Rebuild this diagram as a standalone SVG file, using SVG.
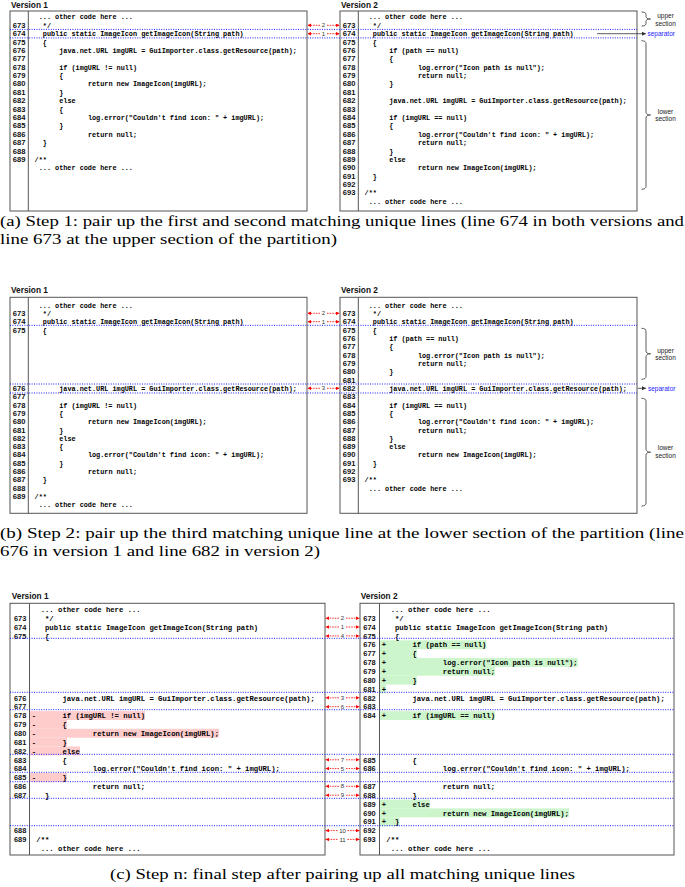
<svg xmlns="http://www.w3.org/2000/svg" width="685" height="887" viewBox="0 0 685 887">
<style>
.box{fill:#fff;stroke:#555;stroke-width:1}
.gut{stroke:#555;stroke-width:1}
.dot{stroke:#1a1aff;stroke-width:1;stroke-dasharray:1 1.4;fill:none}
.code{font-family:"Liberation Mono","Courier New",monospace;font-weight:bold;fill:#000}
.ca{font-size:6.83px}
.cc{font-size:7.25px}
.ln{font-family:"Liberation Sans",Arial,sans-serif;font-weight:bold;fill:#111}
.lna{font-size:7.6px}
.lnc{font-size:7.4px}
.ver{font-family:"Liberation Sans",Arial,sans-serif;font-weight:bold;font-size:8.3px;fill:#111}
.cap{font-family:"Liberation Serif","Times New Roman",serif;font-size:15px;fill:#000}
.ra{stroke:#f00;stroke-width:0.8;stroke-dasharray:1.6 1;fill:none}
.rl{font-family:"Liberation Sans",Arial,sans-serif;font-size:6px;fill:#333;text-anchor:middle}
.sec{font-family:"Liberation Sans",Arial,sans-serif;font-size:6.5px;fill:#222;text-anchor:middle}
.sep{font-family:"Liberation Sans",Arial,sans-serif;font-size:6.5px;fill:#1a1aff}
.brace{fill:none;stroke:#333;stroke-width:0.8}
.sl{stroke:#333;stroke-width:0.8;fill:none}
.pk{fill:#ffcccc}
.gr{fill:#ccf5cc}
</style>
<defs>
<marker id="rh" viewBox="0 0 10 10" refX="10" refY="5" markerUnits="userSpaceOnUse" markerWidth="4" markerHeight="3.6" orient="auto"><path d="M0,0 L10,5 L0,10 z" fill="#f00"/></marker>
<marker id="bh" viewBox="0 0 10 10" refX="10" refY="5" markerUnits="userSpaceOnUse" markerWidth="4.5" markerHeight="4" orient="auto"><path d="M0,0 L10,5 L0,10 z" fill="#333"/></marker>
</defs>

<!-- ================= Panel (a) ================= -->
<g id="a-v1">
<text class="ver" x="11" y="7.5">Version 1</text>
<rect class="box" x="10" y="11" width="297" height="200"/>
<line class="gut" x1="28.3" y1="11" x2="28.3" y2="211"/>
<g class="ln lna">
<text x="12.7" y="27.8">673</text><text x="12.7" y="36.2">674</text><text x="12.7" y="44.5">675</text><text x="12.7" y="52.9">676</text><text x="12.7" y="61.3">677</text><text x="12.7" y="69.7">678</text><text x="12.7" y="78.1">679</text><text x="12.7" y="86.4">680</text><text x="12.7" y="94.8">681</text><text x="12.7" y="103.2">682</text><text x="12.7" y="111.6">683</text><text x="12.7" y="120">684</text><text x="12.7" y="128.3">685</text><text x="12.7" y="136.7">686</text><text x="12.7" y="145.1">687</text><text x="12.7" y="153.5">688</text><text x="12.7" y="161.9">689</text>
</g>
<g class="code ca">
<text x="38.7" y="19.4">... other code here ...</text>
<text x="42.8" y="27.8">*/</text>
<text x="42.8" y="36.2">public static ImageIcon getImageIcon(String path)</text>
<text x="42.8" y="44.5">{</text>
<text x="59.2" y="52.9">java.net.URL imgURL = GuiImporter.class.getResource(path);</text>
<text x="59.2" y="69.7">if (imgURL != null)</text>
<text x="59.2" y="78.1">{</text>
<text x="87.9" y="86.4">return new ImageIcon(imgURL);</text>
<text x="59.2" y="94.8">}</text>
<text x="59.2" y="103.2">else</text>
<text x="59.2" y="111.6">{</text>
<text x="87.9" y="120">log.error("Couldn't find icon: " + imgURL);</text>
<text x="59.2" y="128.3">}</text>
<text x="87.9" y="136.7">return null;</text>
<text x="42.8" y="145.1">}</text>
<text x="34.6" y="161.9">/**</text>
<text x="38.7" y="170.2">... other code here ...</text>
</g>
</g>

<g id="a-v2">
<text class="ver" x="341" y="7.5">Version 2</text>
<rect class="box" x="340" y="11" width="297" height="200"/>
<line class="gut" x1="358.3" y1="11" x2="358.3" y2="211"/>
<g class="ln lna">
<text x="342.7" y="27.8">673</text><text x="342.7" y="36.2">674</text><text x="342.7" y="44.5">675</text><text x="342.7" y="52.9">676</text><text x="342.7" y="61.3">677</text><text x="342.7" y="69.7">678</text><text x="342.7" y="78.1">679</text><text x="342.7" y="86.4">680</text><text x="342.7" y="94.8">681</text><text x="342.7" y="103.2">682</text><text x="342.7" y="111.6">683</text><text x="342.7" y="120">684</text><text x="342.7" y="128.3">685</text><text x="342.7" y="136.7">686</text><text x="342.7" y="145.1">687</text><text x="342.7" y="153.5">688</text><text x="342.7" y="161.9">689</text><text x="342.7" y="170.2">690</text><text x="342.7" y="178.6">691</text><text x="342.7" y="187">692</text><text x="342.7" y="195.4">693</text>
</g>
<g class="code ca">
<text x="368.7" y="19.4">... other code here ...</text>
<text x="372.8" y="27.8">*/</text>
<text x="372.8" y="36.2">public static ImageIcon getImageIcon(String path)</text>
<text x="372.8" y="44.5">{</text>
<text x="389.2" y="52.9">if (path == null)</text>
<text x="389.2" y="61.3">{</text>
<text x="417.9" y="69.7">log.error("Icon path is null");</text>
<text x="417.9" y="78.1">return null;</text>
<text x="389.2" y="86.4">}</text>
<text x="389.2" y="103.2">java.net.URL imgURL = GuiImporter.class.getResource(path);</text>
<text x="389.2" y="120">if (imgURL == null)</text>
<text x="389.2" y="128.3">{</text>
<text x="417.9" y="136.7">log.error("Couldn't find icon: " + imgURL);</text>
<text x="417.9" y="145.1">return null;</text>
<text x="389.2" y="153.5">}</text>
<text x="389.2" y="161.9">else</text>
<text x="417.9" y="170.2">return new ImageIcon(imgURL);</text>
<text x="372.8" y="178.6">}</text>
<text x="364.6" y="195.4">/**</text>
<text x="368.7" y="203.8">... other code here ...</text>
</g>
</g>

<g id="a-sections">
<path class="brace" d="M641.5,12 Q646,12 646,14.5 L646,16.5 Q646,19 650.5,19 Q646,19 646,21.5 L646,23.5 Q646,26 641.5,26"/>
<text class="sec" x="665.5" y="18">upper</text>
<text class="sec" x="665.5" y="25.7">section</text>
<path class="brace" d="M641.5,40.7 Q646,40.7 646,43.7 L646,112 Q646,115 650.5,115 Q646,115 646,118 L646,186.3 Q646,189.3 641.5,189.3"/>
<text class="sec" x="665.5" y="114">lower</text>
<text class="sec" x="665.5" y="121.3">section</text>
<text class="sep" x="647.5" y="36">separator</text>
</g>

<text class="cap" x="0" y="226" textLength="684" lengthAdjust="spacingAndGlyphs">(a) Step 1: pair up the first and second matching unique lines (line 674 in both versions and</text>
<text class="cap" x="0" y="244" textLength="337" lengthAdjust="spacingAndGlyphs">line 673 at the upper section of the partition)</text>

<!-- ================= Panel (b) ================= -->
<g id="b-v1">
<text class="ver" x="11" y="293">Version 1</text>
<rect class="box" x="10" y="297.3" width="297" height="216"/>
<line class="gut" x1="28.3" y1="297.3" x2="28.3" y2="513.3"/>
<g class="ln lna">
<text x="12.7" y="315.8">673</text><text x="12.7" y="324.2">674</text><text x="12.7" y="332.5">675</text><text x="12.7" y="390.8">676</text><text x="12.7" y="399.1">677</text><text x="12.7" y="407.5">678</text><text x="12.7" y="415.8">679</text><text x="12.7" y="424.1">680</text><text x="12.7" y="432.5">681</text><text x="12.7" y="440.8">682</text><text x="12.7" y="449.1">683</text><text x="12.7" y="457.4">684</text><text x="12.7" y="465.8">685</text><text x="12.7" y="474.1">686</text><text x="12.7" y="482.4">687</text><text x="12.7" y="490.8">688</text><text x="12.7" y="499.1">689</text>
</g>
<g class="code ca">
<text x="38.7" y="307.5">... other code here ...</text>
<text x="42.8" y="315.8">*/</text>
<text x="42.8" y="324.2">public static ImageIcon getImageIcon(String path)</text>
<text x="42.8" y="332.5">{</text>
<text x="59.2" y="390.8">java.net.URL imgURL = GuiImporter.class.getResource(path);</text>
<text x="59.2" y="407.5">if (imgURL != null)</text>
<text x="59.2" y="415.8">{</text>
<text x="87.9" y="424.1">return new ImageIcon(imgURL);</text>
<text x="59.2" y="432.5">}</text>
<text x="59.2" y="440.8">else</text>
<text x="59.2" y="449.1">{</text>
<text x="87.9" y="457.4">log.error("Couldn't find icon: " + imgURL);</text>
<text x="59.2" y="465.8">}</text>
<text x="87.9" y="474.1">return null;</text>
<text x="42.8" y="482.4">}</text>
<text x="34.6" y="499.1">/**</text>
<text x="38.7" y="507.4">... other code here ...</text>
</g>
</g>

<g id="b-v2">
<text class="ver" x="341" y="293">Version 2</text>
<rect class="box" x="340" y="297.3" width="297" height="216"/>
<line class="gut" x1="358.3" y1="297.3" x2="358.3" y2="513.3"/>
<g class="ln lna">
<text x="342.7" y="315.8">673</text><text x="342.7" y="324.2">674</text><text x="342.7" y="332.5">675</text><text x="342.7" y="340.8">676</text><text x="342.7" y="349.2">677</text><text x="342.7" y="357.5">678</text><text x="342.7" y="365.8">679</text><text x="342.7" y="374.1">680</text><text x="342.7" y="382.5">681</text><text x="342.7" y="390.8">682</text><text x="342.7" y="399.1">683</text><text x="342.7" y="407.5">684</text><text x="342.7" y="415.8">685</text><text x="342.7" y="424.1">686</text><text x="342.7" y="432.5">687</text><text x="342.7" y="440.8">688</text><text x="342.7" y="449.1">689</text><text x="342.7" y="457.4">690</text><text x="342.7" y="465.8">691</text><text x="342.7" y="474.1">692</text><text x="342.7" y="482.4">693</text>
</g>
<g class="code ca">
<text x="368.7" y="307.5">... other code here ...</text>
<text x="372.8" y="315.8">*/</text>
<text x="372.8" y="324.2">public static ImageIcon getImageIcon(String path)</text>
<text x="372.8" y="332.5">{</text>
<text x="389.2" y="340.8">if (path == null)</text>
<text x="389.2" y="349.2">{</text>
<text x="417.9" y="357.5">log.error("Icon path is null");</text>
<text x="417.9" y="365.8">return null;</text>
<text x="389.2" y="374.1">}</text>
<text x="389.2" y="390.8">java.net.URL imgURL = GuiImporter.class.getResource(path);</text>
<text x="389.2" y="407.5">if (imgURL == null)</text>
<text x="389.2" y="415.8">{</text>
<text x="417.9" y="424.1">log.error("Couldn't find icon: " + imgURL);</text>
<text x="417.9" y="432.5">return null;</text>
<text x="389.2" y="440.8">}</text>
<text x="389.2" y="449.1">else</text>
<text x="417.9" y="457.4">return new ImageIcon(imgURL);</text>
<text x="372.8" y="465.8">}</text>
<text x="364.6" y="482.4">/**</text>
<text x="368.7" y="490.8">... other code here ...</text>
</g>
</g>

<g id="b-sections">
<path class="brace" d="M641.5,328.3 Q646,328.3 646,331.3 L646,350.8 Q646,353.8 650.5,353.8 Q646,353.8 646,356.8 L646,376.3 Q646,379.3 641.5,379.3"/>
<text class="sec" x="665.5" y="352.7">upper</text>
<text class="sec" x="665.5" y="360">section</text>
<path class="brace" d="M641.5,398.3 Q646,398.3 646,401.3 L646,449.2 Q646,452.2 650.5,452.2 Q646,452.2 646,455.2 L646,503 Q646,506 641.5,506"/>
<text class="sec" x="665.5" y="450.3">lower</text>
<text class="sec" x="665.5" y="457.7">section</text>
<text class="sep" x="648" y="390.5">separator</text>
</g>

<text class="cap" x="0" y="538" textLength="684" lengthAdjust="spacingAndGlyphs">(b) Step 2: pair up the third matching unique line at the lower section of the partition (line</text>
<text class="cap" x="0" y="556" textLength="320" lengthAdjust="spacingAndGlyphs">676 in version 1 and line 682 in version 2)</text>

<!-- ================= Panel (c) ================= -->
<g id="c-v1">
<text class="ver" x="11.7" y="598.5">Version 1</text>
<rect class="box" x="10" y="603.3" width="315" height="251.7"/>
<g>
<rect class="pk" x="30" y="711.1" width="115" height="8.9"/>
<rect class="pk" x="30" y="719.9" width="37" height="8.9"/>
<rect class="pk" x="30" y="728.8" width="189" height="8.9"/>
<rect class="pk" x="30" y="737.6" width="37" height="8.9"/>
<rect class="pk" x="30" y="746.5" width="50" height="8.9"/>
<rect class="pk" x="30" y="773" width="37" height="8.85"/>
</g>
<line class="gut" x1="29.5" y1="603.3" x2="29.5" y2="855"/>
<g class="ln lnc">
<text x="14" y="620.9">673</text><text x="14" y="629.7">674</text><text x="14" y="638.6">675</text><text x="14" y="700.5">676</text><text x="14" y="709.4">677</text><text x="14" y="718.2">678</text><text x="14" y="727.1">679</text><text x="14" y="735.9">680</text><text x="14" y="744.8">681</text><text x="14" y="753.6">682</text><text x="14" y="762.5">683</text><text x="14" y="771.3">684</text><text x="14" y="780.2">685</text><text x="14" y="789">686</text><text x="14" y="797.9">687</text><text x="14" y="833.3">688</text><text x="14" y="842.1">689</text>
</g>
<g class="code cc">
<text x="40.65" y="612">... other code here ...</text>
<text x="45" y="620.9">*/</text>
<text x="45" y="629.7">public static ImageIcon getImageIcon(String path)</text>
<text x="45" y="638.6">{</text>
<text x="62.4" y="700.5">java.net.URL imgURL = GuiImporter.class.getResource(path);</text>
<text x="31.7" y="718.2">-</text><text x="62.4" y="718.2">if (imgURL != null)</text>
<text x="31.7" y="727.1">-</text><text x="62.4" y="727.1">{</text>
<text x="31.7" y="735.9">-</text><text x="92.85" y="735.9">return new ImageIcon(imgURL);</text>
<text x="31.7" y="744.8">-</text><text x="62.4" y="744.8">}</text>
<text x="31.7" y="753.6">-</text><text x="62.4" y="753.6">else</text>
<text x="62.4" y="762.5">{</text>
<text x="92.85" y="771.3">log.error("Couldn't find icon: " + imgURL);</text>
<text x="31.7" y="780.2">-</text><text x="62.4" y="780.2">}</text>
<text x="92.85" y="789">return null;</text>
<text x="45" y="797.9">}</text>
<text x="36.3" y="842.1">/**</text>
<text x="40.65" y="851">... other code here ...</text>
</g>
</g>

<g id="c-v2">
<text class="ver" x="360.7" y="598.5">Version 2</text>
<rect class="box" x="360" y="603.3" width="314" height="251.7"/>
<g>
<rect class="gr" x="380" y="640.3" width="106.4" height="8.9"/>
<rect class="gr" x="380" y="649.1" width="36.8" height="8.9"/>
<rect class="gr" x="380" y="658" width="197.7" height="8.9"/>
<rect class="gr" x="380" y="666.8" width="115" height="8.9"/>
<rect class="gr" x="380" y="675.7" width="36.8" height="8.9"/>
<rect class="gr" x="380" y="684.5" width="6" height="8.85"/>
<rect class="gr" x="380" y="711.1" width="115" height="8.85"/>
<rect class="gr" x="380" y="799.6" width="49.8" height="8.9"/>
<rect class="gr" x="380" y="808.4" width="189" height="8.9"/>
<rect class="gr" x="380" y="817.3" width="19.4" height="8.85"/>
</g>
<line class="gut" x1="379.5" y1="603.3" x2="379.5" y2="855"/>
<g class="ln lnc">
<text x="363.3" y="620.9">673</text><text x="363.3" y="629.7">674</text><text x="363.3" y="638.6">675</text><text x="363.3" y="647.4">676</text><text x="363.3" y="656.3">677</text><text x="363.3" y="665.1">678</text><text x="363.3" y="674">679</text><text x="363.3" y="682.8">680</text><text x="363.3" y="691.7">681</text><text x="363.3" y="700.5">682</text><text x="363.3" y="709.4">683</text><text x="363.3" y="718.2">684</text><text x="363.3" y="762.5">685</text><text x="363.3" y="771.3">686</text><text x="363.3" y="789">687</text><text x="363.3" y="797.9">688</text><text x="363.3" y="806.7">689</text><text x="363.3" y="815.6">690</text><text x="363.3" y="824.4">691</text><text x="363.3" y="833.3">692</text><text x="363.3" y="842.1">693</text>
</g>
<g class="code cc">
<text x="390.65" y="612">... other code here ...</text>
<text x="395" y="620.9">*/</text>
<text x="395" y="629.7">public static ImageIcon getImageIcon(String path)</text>
<text x="395" y="638.6">{</text>
<text x="381.7" y="647.4">+</text><text x="412.4" y="647.4">if (path == null)</text>
<text x="381.7" y="656.3">+</text><text x="412.4" y="656.3">{</text>
<text x="381.7" y="665.1">+</text><text x="442.85" y="665.1">log.error("Icon path is null");</text>
<text x="381.7" y="674">+</text><text x="442.85" y="674">return null;</text>
<text x="381.7" y="682.8">+</text><text x="412.4" y="682.8">}</text>
<text x="381.7" y="691.7">+</text>
<text x="412.4" y="700.5">java.net.URL imgURL = GuiImporter.class.getResource(path);</text>
<text x="381.7" y="718.2">+</text><text x="412.4" y="718.2">if (imgURL == null)</text>
<text x="412.4" y="762.5">{</text>
<text x="442.85" y="771.3">log.error("Couldn't find icon: " + imgURL);</text>
<text x="442.85" y="789">return null;</text>
<text x="412.4" y="797.9">}</text>
<text x="381.7" y="806.7">+</text><text x="412.4" y="806.7">else</text>
<text x="381.7" y="815.6">+</text><text x="442.85" y="815.6">return new ImageIcon(imgURL);</text>
<text x="381.7" y="824.4">+</text><text x="395" y="824.4">}</text>
<text x="386.3" y="842.1">/**</text>
<text x="390.65" y="851">... other code here ...</text>
</g>
</g>

<text class="cap" x="110" y="879" textLength="465" lengthAdjust="spacingAndGlyphs">(c) Step n: final step after pairing up all matching unique lines</text>

<!-- ================= Connectors ================= -->
<g id="connectors">
<g id="separators">
<line class="dot" x1="10" y1="29.4" x2="637" y2="29.4"/>
<line class="dot" x1="10" y1="37.9" x2="637" y2="37.9"/>
<line class="dot" x1="10" y1="325.3" x2="637" y2="325.3"/>
<line class="dot" x1="10" y1="384" x2="637" y2="384"/>
<line class="dot" x1="10" y1="393" x2="637" y2="393"/>
<line class="dot" x1="10" y1="638.3" x2="674" y2="638.3"/>
<line class="dot" x1="10" y1="692.3" x2="674" y2="692.3"/>
<line class="dot" x1="10" y1="709.7" x2="674" y2="709.7"/>
<line class="dot" x1="10" y1="754.3" x2="674" y2="754.3"/>
<line class="dot" x1="10" y1="772.3" x2="674" y2="772.3"/>
<line class="dot" x1="10" y1="781.7" x2="674" y2="781.7"/>
<line class="dot" x1="10" y1="798.3" x2="674" y2="798.3"/>
<line class="dot" x1="10" y1="825.7" x2="674" y2="825.7"/>
</g>
<line class="sl" x1="597" y1="33.7" x2="646" y2="33.7" marker-end="url(#bh)"/>
<line class="sl" x1="637.5" y1="388.3" x2="646" y2="388.3" marker-end="url(#bh)"/>

<!-- pair arrows (a) -->
<g><line class="ra" x1="320" y1="25.3" x2="307.5" y2="25.3" marker-end="url(#rh)"/><line class="ra" x1="327" y1="25.3" x2="339.5" y2="25.3" marker-end="url(#rh)"/><text class="rl" x="323.5" y="27.4">2</text></g>
<g><line class="ra" x1="320" y1="33.7" x2="307.5" y2="33.7" marker-end="url(#rh)"/><line class="ra" x1="327" y1="33.7" x2="339.5" y2="33.7" marker-end="url(#rh)"/><text class="rl" x="323.5" y="35.8">1</text></g>
<!-- pair arrows (b) -->
<g><line class="ra" x1="320" y1="313.3" x2="307.5" y2="313.3" marker-end="url(#rh)"/><line class="ra" x1="327" y1="313.3" x2="339.5" y2="313.3" marker-end="url(#rh)"/><text class="rl" x="323.5" y="315.4">2</text></g>
<g><line class="ra" x1="320" y1="321.7" x2="307.5" y2="321.7" marker-end="url(#rh)"/><line class="ra" x1="327" y1="321.7" x2="339.5" y2="321.7" marker-end="url(#rh)"/><text class="rl" x="323.5" y="323.8">1</text></g>
<g><line class="ra" x1="320" y1="388.3" x2="307.5" y2="388.3" marker-end="url(#rh)"/><line class="ra" x1="327" y1="388.3" x2="339.5" y2="388.3" marker-end="url(#rh)"/><text class="rl" x="323.5" y="390.4">3</text></g>
<!-- pair arrows (c) -->
<g><line class="ra" x1="339" y1="618.2" x2="325.5" y2="618.2" marker-end="url(#rh)"/><line class="ra" x1="346" y1="618.2" x2="359.5" y2="618.2" marker-end="url(#rh)"/><text class="rl" x="342.5" y="620.3">2</text></g>
<g><line class="ra" x1="339" y1="627" x2="325.5" y2="627" marker-end="url(#rh)"/><line class="ra" x1="346" y1="627" x2="359.5" y2="627" marker-end="url(#rh)"/><text class="rl" x="342.5" y="629.1">1</text></g>
<g><line class="ra" x1="339" y1="635.9" x2="325.5" y2="635.9" marker-end="url(#rh)"/><line class="ra" x1="346" y1="635.9" x2="359.5" y2="635.9" marker-end="url(#rh)"/><text class="rl" x="342.5" y="638">4</text></g>
<g><line class="ra" x1="339" y1="697.8" x2="325.5" y2="697.8" marker-end="url(#rh)"/><line class="ra" x1="346" y1="697.8" x2="359.5" y2="697.8" marker-end="url(#rh)"/><text class="rl" x="342.5" y="699.9">3</text></g>
<g><line class="ra" x1="339" y1="706.7" x2="325.5" y2="706.7" marker-end="url(#rh)"/><line class="ra" x1="346" y1="706.7" x2="359.5" y2="706.7" marker-end="url(#rh)"/><text class="rl" x="342.5" y="708.8">6</text></g>
<g><line class="ra" x1="339" y1="759.8" x2="325.5" y2="759.8" marker-end="url(#rh)"/><line class="ra" x1="346" y1="759.8" x2="359.5" y2="759.8" marker-end="url(#rh)"/><text class="rl" x="342.5" y="761.9">7</text></g>
<g><line class="ra" x1="339" y1="768.6" x2="325.5" y2="768.6" marker-end="url(#rh)"/><line class="ra" x1="346" y1="768.6" x2="359.5" y2="768.6" marker-end="url(#rh)"/><text class="rl" x="342.5" y="770.7">5</text></g>
<g><line class="ra" x1="339" y1="786.3" x2="325.5" y2="786.3" marker-end="url(#rh)"/><line class="ra" x1="346" y1="786.3" x2="359.5" y2="786.3" marker-end="url(#rh)"/><text class="rl" x="342.5" y="788.4">8</text></g>
<g><line class="ra" x1="339" y1="795.2" x2="325.5" y2="795.2" marker-end="url(#rh)"/><line class="ra" x1="346" y1="795.2" x2="359.5" y2="795.2" marker-end="url(#rh)"/><text class="rl" x="342.5" y="797.3">9</text></g>
<g><line class="ra" x1="337.5" y1="830.6" x2="325.5" y2="830.6" marker-end="url(#rh)"/><line class="ra" x1="347.5" y1="830.6" x2="359.5" y2="830.6" marker-end="url(#rh)"/><text class="rl" x="342.5" y="832.7">10</text></g>
<g><line class="ra" x1="337.5" y1="839.4" x2="325.5" y2="839.4" marker-end="url(#rh)"/><line class="ra" x1="347.5" y1="839.4" x2="359.5" y2="839.4" marker-end="url(#rh)"/><text class="rl" x="342.5" y="841.5">11</text></g>
</g>
</svg>
